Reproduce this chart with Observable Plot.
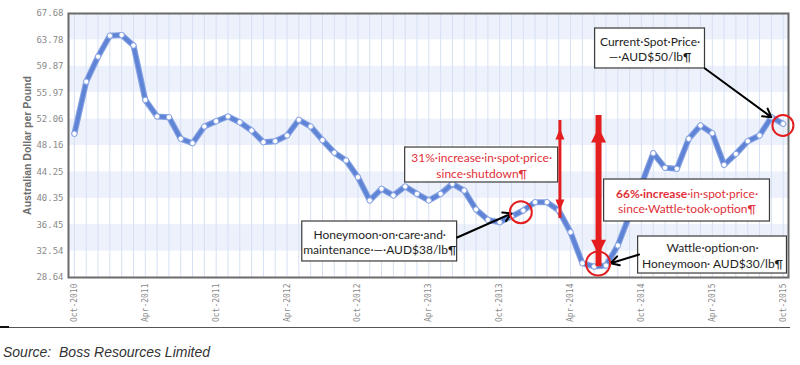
<!DOCTYPE html>
<html>
<head>
<meta charset="utf-8">
<script src="https://cdn.jsdelivr.net/npm/d3@7"></script>
<script src="https://cdn.jsdelivr.net/npm/@observablehq/plot@0.6"></script>
<style>
  html, body { margin: 0; padding: 0; background: #fff; }
  #chart { width: 800px; height: 322px; }
  #rule { width: 790px; height: 0; border-top: 1px solid #555; margin-top: 5px; position: relative; }
  #rule::before { content: ""; position: absolute; left: 0; top: -2px; width: 9px; height: 2px; background: #111; }
  #source { font-family: "Liberation Sans", Arial, sans-serif; font-style: italic; font-size: 14px; color: #333; margin: 16px 0 0 3px; }
</style>
</head>
<body>
<div id="chart"></div>
<div id="rule"></div>
<div id="source">Source:&nbsp; Boss Resources Limited</div>
<script>
// Monthly categories (Oct-2010 .. Oct-2015)
const months = [
  "Oct-2010","Nov-2010","Dec-2010",
  "Jan-2011","Feb-2011","Mar-2011","Apr-2011","May-2011","Jun-2011","Jul-2011","Aug-2011","Sep-2011","Oct-2011","Nov-2011","Dec-2011",
  "Jan-2012","Feb-2012","Mar-2012","Apr-2012","May-2012","Jun-2012","Jul-2012","Aug-2012","Sep-2012","Oct-2012","Nov-2012","Dec-2012",
  "Jan-2013","Feb-2013","Mar-2013","Apr-2013","May-2013","Jun-2013","Jul-2013","Aug-2013","Sep-2013","Oct-2013","Nov-2013","Dec-2013",
  "Jan-2014","Feb-2014","Mar-2014","Apr-2014","May-2014","Jun-2014","Jul-2014","Aug-2014","Sep-2014","Oct-2014","Nov-2014","Dec-2014",
  "Jan-2015","Feb-2015","Mar-2015","Apr-2015","May-2015","Jun-2015","Jul-2015","Aug-2015","Sep-2015","Oct-2015"
];

// Uranium spot price, AUD per pound
const prices = [
  49.9, 57.6, 61.3, 64.4, 64.5, 62.95, 54.9, 52.45, 52.35, 49.15,
  48.5, 50.97, 51.75, 52.45, 51.6, 50.38, 48.65, 48.8, 49.64, 51.96,
  50.97, 48.95, 47.1, 45.95, 43.47, 40.03, 41.75, 40.77, 42.1, 41.01,
  40.03, 41.01, 42.49, 41.5, 38.7, 37.17, 36.82, 37.66, 38.55, 39.78,
  39.78, 38.55, 35.34, 30.75, 30.26, 30.41, 33.37, 37.9, 42.4, 47.02,
  44.86, 44.71, 49.15, 51.12, 49.98, 45.3, 46.92, 48.8, 49.64, 52.35,
  51.37
];

// Y tick values
const yTicks = [28.64, 32.54, 36.45, 40.35, 44.25, 48.16, 52.06, 55.97, 59.87, 63.78, 67.68];
// X tick positions (every 6 months)
const xTickIdx = [0, 6, 12, 18, 24, 30, 36, 42, 48, 54, 60];

const yLabel = "Australian Dollar per Pound";

// Annotation boxes (in data coordinates: month index, AUD/lb)
const notes = [
  {text: "31%·increase·in·spot·price·\nsince·shutdown¶", x1: 28.0, x2: 40.95, y1: 42.69, y2: 47.86, red: true},
  {text: "Honeymoon·on·care·and·\nmaintenance·—·AUD$38/lb¶", x1: 19.29, x2: 32.4, y1: 31.01, y2: 36.92, red: false},
  {text: "66%·increase·in·spot·price·\nsince·Wattle·took·option¶", x1: 44.84, x2: 58.88, y1: 36.92, y2: 43.13, red: true},
  {text: "Wattle·option·on·\nHoneymoon· AUD$30/lb¶", x1: 47.72, x2: 60.32, y1: 29.23, y2: 34.7, red: false},
  {text: "Current·Spot·Price·\n—·AUD$50/lb¶", x1: 44.08, x2: 53.38, y1: 59.55, y2: 65.46, red: false}
];
// Black pointer arrows
const pointers = [
  {x1: 32.4, y1: 34.55, x2: 37.0, y2: 38.1},
  {x1: 47.8, y1: 32.04, x2: 45.4, y2: 30.75},
  {x1: 53.38, y1: 59.55, x2: 59.0, y2: 52.35}
];
// Red circles
const circles = [
  {x: 37.79, y: 38.3, r: 11},
  {x: 44.33, y: 30.71, r: 12},
  {x: 59.98, y: 51.12, r: 10.5}
];
// Red double-headed arrows
const spans = [
  {x: 41.1, y1: 38.55, y2: 50.67, w: "thin"},
  {x: 44.37, y1: 32.0, y2: 50.82, w: "thick"}
];

const bands = yTicks.slice(0, -1).map((v, i) => ({y1: v, y2: yTicks[i + 1], i})).filter(d => d.i % 2 === 1);
const data = prices.map((p, i) => ({i, p}));

function head(w, h, up) {
  return {
    draw(context) {
      const s = up ? 1 : -1;
      context.moveTo(0, 0);
      context.lineTo(-w / 2, s * h);
      context.lineTo(w / 2, s * h);
      context.closePath();
    }
  };
}
const RED = "#e41e1e";
const thin = spans.filter(d => d.w === "thin");
const thick = spans.filter(d => d.w === "thick");

const chart = Plot.plot({
  width: 800,
  height: 322,
  marginLeft: 68,
  marginRight: 12,
  marginTop: 13,
  marginBottom: 45,
  x: {domain: [-0.5, 60.45]},
  y: {domain: [28.64, 67.68]},
  r: {type: "identity"},
  style: {fontFamily: "DejaVu Sans Mono", fontSize: "9px", color: "#8a8a8a", background: "white"},
  marks: [
    Plot.rectY(bands, {y1: "y1", y2: "y2", fill: "#edf1fb"}),
    Plot.ruleX(months.map((m, i) => i), {stroke: "#d6e0f3", strokeWidth: 1}),
    Plot.axisY({ticks: yTicks, tickFormat: d => d.toFixed(2), tickSize: 0, tickPadding: 5, label: null}),
    Plot.axisX({ticks: xTickIdx, tickFormat: i => months[i], tickRotate: -90, tickSize: 0, tickPadding: 6, label: null, fontSize: 8}),
    Plot.text([yLabel], {frameAnchor: "left", textAnchor: "middle", rotate: -90, dx: -41, fontFamily: "Liberation Sans", fontWeight: "bold", fontSize: 10.5, fill: "#6e6e6e"}),
    Plot.frame({stroke: "#6a6a6a", strokeWidth: 2}),
    Plot.line(data, {x: "i", y: "p", stroke: "#86a2e2", strokeWidth: 6, strokeLinejoin: "round"}),
    Plot.line(data, {x: "i", y: "p", stroke: "#5f84d6", strokeWidth: 3.8, strokeLinejoin: "round"}),
    Plot.dot(data, {x: "i", y: "p", r: 2.7, fill: "white", stroke: "#86a2e2", strokeWidth: 1}),
    Plot.rect(notes, {x1: "x1", x2: "x2", y1: "y1", y2: "y2", fill: "white", stroke: "#3a3a3a", strokeWidth: 1.2}),
    Plot.text(notes, {x: d => (d.x1 + d.x2) / 2, y: d => (d.y1 + d.y2) / 2, text: "text", lineHeight: 1.3,
      fill: d => d.red ? "#e0303a" : "#1e1e1e", fontFamily: "Lato", fontSize: 12, className: "note"}),
    Plot.arrow(pointers, {x1: "x1", y1: "y1", x2: "x2", y2: "y2", stroke: "#000", strokeWidth: 2, headLength: 7}),
    Plot.ruleX(thin, {x: "x", y1: "y1", y2: "y2", stroke: RED, strokeWidth: 3, insetTop: 8, insetBottom: 8}),
    Plot.dot(thin, {x: "x", y: "y2", symbol: head(9, 11, true), fill: RED, r: 5}),
    Plot.dot(thin, {x: "x", y: "y1", symbol: head(9, 11, false), fill: RED, r: 5}),
    Plot.ruleX(thick, {x: "x", y1: "y1", y2: "y2", stroke: RED, strokeWidth: 6, insetTop: 12, insetBottom: 12}),
    Plot.dot(thick, {x: "x", y: "y2", symbol: head(15, 15, true), fill: RED, r: 5}),
    Plot.dot(thick, {x: "x", y: "y1", symbol: head(15, 15, false), fill: RED, r: 5}),
    Plot.dot(circles, {x: "x", y: "y", r: "r", stroke: RED, strokeWidth: 2, fill: "none"})
  ]
});
document.getElementById("chart").appendChild(chart);

// Bold "66%·increase" inside its note
d3.select(chart).selectAll("g.note tspan, g.note text").each(function () {
  const el = this;
  if (el.childNodes.length === 1 && el.textContent.startsWith("66%·increase")) {
    const rest = el.textContent.slice("66%·increase".length);
    el.textContent = "";
    d3.select(el).append("tspan").attr("font-weight", "bold").text("66%·increase");
    d3.select(el).append("tspan").text(rest);
  }
});
</script>
</body>
</html>
